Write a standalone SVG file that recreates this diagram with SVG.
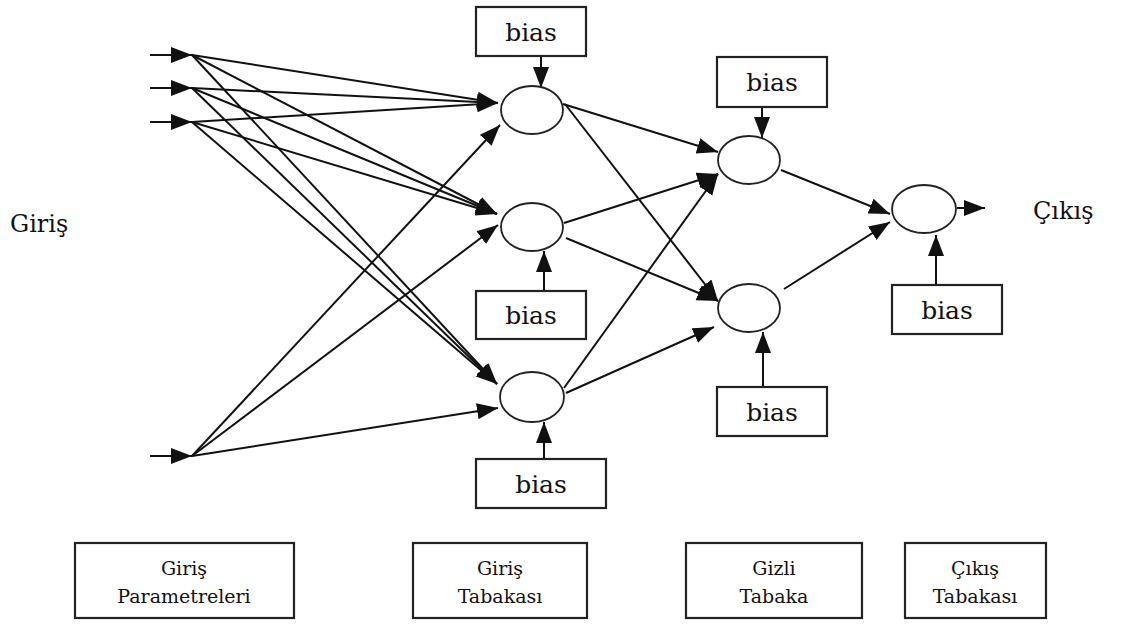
<svg xmlns="http://www.w3.org/2000/svg" width="1124" height="625" viewBox="0 0 1124 625">
<style>
.ln{stroke:#111;stroke-width:2;fill:none}
.nd{stroke:#222;stroke-width:1.8;fill:#fff}
.bx{stroke:#222;stroke-width:2.2;fill:#fff}
.bt{font-family:"DejaVu Serif","Liberation Serif",serif;font-size:25px;fill:#111;text-anchor:middle}
.lt{font-family:"DejaVu Serif","Liberation Serif",serif;font-size:19px;fill:#111;text-anchor:middle}
.st{font-family:"DejaVu Serif","Liberation Serif",serif;font-size:24px;fill:#111}
</style>
<defs>
<marker id="ah" markerUnits="userSpaceOnUse" markerWidth="24" markerHeight="18" refX="21" refY="8" orient="auto">
<path d="M0,0 L21,8 L0,16 z" fill="#111"/>
</marker>
</defs>
<rect width="1124" height="625" fill="#fff"/>
<g id="connectors">
<line class="ln" x1="150" y1="55" x2="192" y2="55" marker-end="url(#ah)"/>
<line class="ln" x1="150" y1="88" x2="192" y2="88" marker-end="url(#ah)"/>
<line class="ln" x1="150" y1="122" x2="192" y2="122" marker-end="url(#ah)"/>
<line class="ln" x1="150" y1="456" x2="192" y2="456" marker-end="url(#ah)"/>
<line class="ln" x1="192" y1="55" x2="498" y2="103" marker-end="url(#ah)"/>
<line class="ln" x1="192" y1="88" x2="498" y2="103" marker-end="url(#ah)"/>
<line class="ln" x1="192" y1="122" x2="498" y2="103" marker-end="url(#ah)"/>
<line class="ln" x1="192" y1="456" x2="500" y2="125" marker-end="url(#ah)"/>
<line class="ln" x1="192" y1="55" x2="497" y2="214" marker-end="url(#ah)"/>
<line class="ln" x1="192" y1="88" x2="497" y2="214" marker-end="url(#ah)"/>
<line class="ln" x1="192" y1="122" x2="497" y2="214" marker-end="url(#ah)"/>
<line class="ln" x1="192" y1="456" x2="498" y2="225" marker-end="url(#ah)"/>
<line class="ln" x1="192" y1="55" x2="497" y2="384" marker-end="url(#ah)"/>
<line class="ln" x1="192" y1="88" x2="497" y2="384" marker-end="url(#ah)"/>
<line class="ln" x1="192" y1="122" x2="497" y2="384" marker-end="url(#ah)"/>
<line class="ln" x1="192" y1="456" x2="498" y2="408" marker-end="url(#ah)"/>
<line class="ln" x1="563" y1="104" x2="718" y2="152" marker-end="url(#ah)"/>
<line class="ln" x1="565" y1="104" x2="718" y2="301" marker-end="url(#ah)"/>
<line class="ln" x1="564" y1="223" x2="718" y2="174" marker-end="url(#ah)"/>
<line class="ln" x1="566" y1="238" x2="718" y2="301" marker-end="url(#ah)"/>
<line class="ln" x1="564" y1="388" x2="718" y2="174" marker-end="url(#ah)"/>
<line class="ln" x1="566" y1="393" x2="714" y2="327" marker-end="url(#ah)"/>
<line class="ln" x1="781" y1="170" x2="890" y2="214" marker-end="url(#ah)"/>
<line class="ln" x1="784" y1="289" x2="890" y2="222" marker-end="url(#ah)"/>
<line class="ln" x1="957" y1="208" x2="985" y2="208" marker-end="url(#ah)"/>
<line class="ln" x1="541" y1="56" x2="541" y2="88" marker-end="url(#ah)"/>
<line class="ln" x1="762" y1="107" x2="762" y2="138" marker-end="url(#ah)"/>
<line class="ln" x1="544" y1="291" x2="544" y2="251" marker-end="url(#ah)"/>
<line class="ln" x1="544" y1="459" x2="544" y2="422" marker-end="url(#ah)"/>
<line class="ln" x1="763" y1="387" x2="763" y2="332" marker-end="url(#ah)"/>
<line class="ln" x1="936" y1="285" x2="936" y2="235" marker-end="url(#ah)"/>
</g>
<g id="n-a"><ellipse class="nd" cx="532" cy="110" rx="31" ry="24"/></g>
<g id="n-b"><ellipse class="nd" cx="532" cy="227" rx="31" ry="24"/></g>
<g id="n-c"><ellipse class="nd" cx="532" cy="397" rx="32" ry="25"/></g>
<g id="n-h1"><ellipse class="nd" cx="749" cy="160" rx="31" ry="24"/></g>
<g id="n-h2"><ellipse class="nd" cx="749" cy="308" rx="31" ry="24"/></g>
<g id="n-o"><ellipse class="nd" cx="924" cy="209" rx="32" ry="24"/></g>
<g id="bias-a"><rect class="bx" x="476" y="7" width="110" height="49"/><text class="bt" x="531" y="41">bias</text></g>
<g id="bias-h1"><rect class="bx" x="717" y="57" width="110" height="50"/><text class="bt" x="772" y="91">bias</text></g>
<g id="bias-b"><rect class="bx" x="476" y="291" width="110" height="48"/><text class="bt" x="531" y="324">bias</text></g>
<g id="bias-c"><rect class="bx" x="476" y="459" width="130" height="49"/><text class="bt" x="541" y="493">bias</text></g>
<g id="bias-h2"><rect class="bx" x="717" y="387" width="110" height="49"/><text class="bt" x="772" y="421">bias</text></g>
<g id="bias-o"><rect class="bx" x="892" y="285" width="110" height="49"/><text class="bt" x="947" y="319">bias</text></g>
<g id="lbl-giris"><text class="st" x="10" y="232">Giriş</text></g>
<g id="lbl-cikis"><text class="st" x="1033" y="219">Çıkış</text></g>
<g id="leg-1"><rect class="bx" x="75" y="543" width="219" height="75"/><text class="lt" x="184" y="575">Giriş</text><text class="lt" x="184" y="603">Parametreleri</text></g>
<g id="leg-2"><rect class="bx" x="413" y="543" width="174" height="75"/><text class="lt" x="500" y="575">Giriş</text><text class="lt" x="500" y="603">Tabakası</text></g>
<g id="leg-3"><rect class="bx" x="686" y="543" width="176" height="75"/><text class="lt" x="774" y="575">Gizli</text><text class="lt" x="774" y="603">Tabaka</text></g>
<g id="leg-4"><rect class="bx" x="905" y="543" width="141" height="75"/><text class="lt" x="975" y="575">Çıkış</text><text class="lt" x="975" y="603">Tabakası</text></g>
</svg>
